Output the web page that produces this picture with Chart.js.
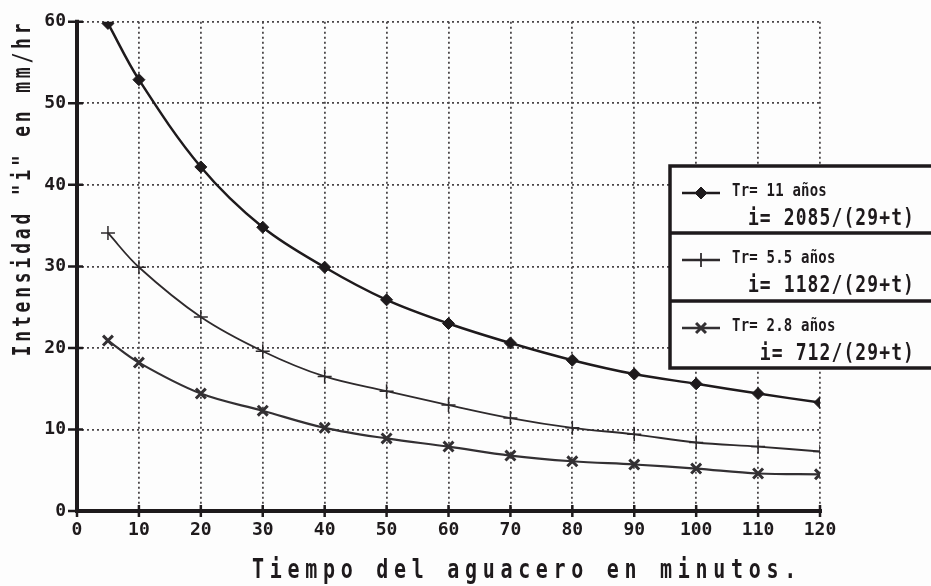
<!DOCTYPE html>
<html>
<head>
<meta charset="utf-8">
<script src="https://cdn.jsdelivr.net/npm/chart.js@4.4.1/dist/chart.umd.min.js"></script>
<style>
  body { margin: 0; background: #fdfdfd; }
  #wrap { width: 931px; height: 586px; }
</style>
</head>
<body>
<div id="wrap"><canvas id="curvas" width="931" height="586"></canvas></div>
<script>
// datos
const tiempos = [5, 10, 20, 30, 40, 50, 60, 70, 80, 90, 100, 110, 120]
const tr11 = [59.8, 52.9, 42.2, 34.8, 29.9, 25.9, 23.0, 20.6, 18.5, 16.8, 15.6, 14.4, 13.3]
const tr55 = [34.1, 29.9, 23.8, 19.6, 16.5, 14.7, 13.0, 11.4, 10.2, 9.4, 8.4, 7.9, 7.3]
const tr28 = [20.9, 18.2, 14.4, 12.3, 10.2, 8.9, 7.9, 6.8, 6.1, 5.7, 5.2, 4.6, 4.5]

const nombres = ['Tr= 11 años', 'Tr= 5.5 años', 'Tr= 2.8 años']
const formulas = ['i= 2085/(29+t)', 'i= 1182/(29+t)', 'i= 712/(29+t)']
const tituloX = 'Tiempo del aguacero en minutos.'
const tituloY = 'Intensidad "i" en mm/hr'

const MONO = 'DejaVu Sans Mono'

function puntos(ys) {
    return tiempos.map((t, i) => ({ x: t, y: ys[i] }))
}

// texto estirado a lo alto, como la letra de plotter
function texto(ctx, txt, x, y, size, sy, spacing, align, rot) {
    ctx.save()
    ctx.translate(x, y)
    if (rot) ctx.rotate(rot)
    ctx.scale(1, sy)
    ctx.font = 'bold ' + size + 'px "' + MONO + '"'
    ctx.letterSpacing = spacing + 'px'
    ctx.textAlign = align
    ctx.textBaseline = 'alphabetic'
    ctx.fillStyle = '#1e1a1c'
    ctx.fillText(txt, 0, 0)
    ctx.restore()
}

const ejes = {
    id: 'ejes',
    beforeDatasetsDraw(chart) {
        const ctx = chart.ctx
        const xs = chart.scales.x, ys = chart.scales.y
        const x0 = xs.getPixelForValue(0), x1 = xs.getPixelForValue(120)
        const y0 = ys.getPixelForValue(0), y1 = ys.getPixelForValue(60)
        ctx.save()
        ctx.strokeStyle = '#1e1a1c'
        ctx.lineWidth = 4
        ctx.beginPath()
        ctx.moveTo(x0, y1 - 2); ctx.lineTo(x0, y0 + 2)
        ctx.moveTo(x0 - 2, y0); ctx.lineTo(x1 + 2, y0)
        ctx.stroke()
        ctx.lineWidth = 2.5
        ctx.beginPath()
        for (let v = 0; v <= 60; v += 10) {
            const p = ys.getPixelForValue(v)
            ctx.moveTo(x0 - 9, p); ctx.lineTo(x0 + 6, p)
        }
        for (let v = 0; v <= 120; v += 10) {
            const p = xs.getPixelForValue(v)
            ctx.moveTo(p, y0 - 6); ctx.lineTo(p, y0 + 6)
        }
        ctx.stroke()
        ctx.restore()
    },
    afterDraw(chart) {
        const ctx = chart.ctx
        texto(ctx, tituloX, 527, 578, 20, 1.35, 5.7, 'center')
        texto(ctx, tituloY, 30, 188, 18, 1.4, 3.8, 'center', -Math.PI / 2)

        // leyenda en caja
        const L = 670, T = 166, R = 945
        const filas = [166, 233, 301, 368]
        ctx.save()
        ctx.fillStyle = '#fdfdfd'
        ctx.fillRect(L, T, R - L, filas[3] - T)
        ctx.strokeStyle = '#1e1a1c'
        ctx.lineWidth = 3.5
        ctx.strokeRect(L, T, R - L, filas[3] - T)
        ctx.beginPath()
        ctx.moveTo(L, filas[1]); ctx.lineTo(R, filas[1])
        ctx.moveTo(L, filas[2]); ctx.lineTo(R, filas[2])
        ctx.stroke()
        ctx.restore()

        chart.data.datasets.forEach((ds, i) => {
            const top = filas[i]
            const ym = top + 27
            ctx.save()
            ctx.strokeStyle = ds.borderColor
            ctx.lineWidth = 2.5
            ctx.beginPath()
            ctx.moveTo(682, ym); ctx.lineTo(720, ym)
            ctx.stroke()
            ctx.restore()
            Chart.helpers.drawPoint(ctx, {
                pointStyle: ds.pointStyle,
                radius: ds.pointRadius,
                borderWidth: ds.pointBorderWidth
            }, 701, ym)
            ctx.fillStyle = ds.borderColor
            ctx.strokeStyle = ds.borderColor
            ctx.save()
            ctx.fillStyle = ds.pointBackgroundColor
            ctx.strokeStyle = ds.pointBorderColor
            ctx.lineWidth = ds.pointBorderWidth
            Chart.helpers.drawPoint(ctx, {
                pointStyle: ds.pointStyle,
                radius: ds.pointRadius,
                borderWidth: ds.pointBorderWidth
            }, 701, ym)
            ctx.restore()
            texto(ctx, nombres[i], 732, top + 30, 14, 1.3, 0.2, 'left')
            texto(ctx, formulas[i], 915, top + 59, 18, 1.3, 1.1, 'right')
        })
    }
}

const grafico = new Chart(document.getElementById('curvas'), {
    type: 'line',
    data: {
        datasets: [{
            label: nombres[0],
            data: puntos(tr11),
            borderColor: '#1e1a1c',
            borderWidth: 2.5,
            pointStyle: 'rectRot',
            pointRadius: 6,
            pointBackgroundColor: '#1e1a1c',
            pointBorderColor: '#1e1a1c',
            pointBorderWidth: 1,
            tension: 0.35
        }, {
            label: nombres[1],
            data: puntos(tr55),
            borderColor: '#2e2a2c',
            borderWidth: 1.8,
            pointStyle: 'cross',
            pointRadius: 7,
            pointBackgroundColor: '#2e2a2c',
            pointBorderColor: '#2e2a2c',
            pointBorderWidth: 1.5,
            tension: 0.35
        }, {
            label: nombres[2],
            data: puntos(tr28),
            borderColor: '#333033',
            borderWidth: 2.2,
            pointStyle: 'crossRot',
            pointRadius: 7,
            pointBackgroundColor: '#333033',
            pointBorderColor: '#333033',
            pointBorderWidth: 3,
            tension: 0.35
        }]
    },
    options: {
        responsive: false,
        animation: false,
        layout: { padding: { top: 18, right: 111, left: 0, bottom: 0 } },
        plugins: {
            legend: { display: false },
            tooltip: { enabled: false }
        },
        scales: {
            x: {
                type: 'linear',
                min: 0,
                max: 120,
                ticks: {
                    stepSize: 10,
                    padding: 9,
                    color: '#1e1a1c',
                    font: { family: MONO, size: 18, weight: 'bold' }
                },
                grid: { color: '#4a4648', lineWidth: 1.8, drawTicks: false },
                border: { display: false, dash: [2, 3] },
                afterFit: function (scale) { scale.height = 75 }
            },
            y: {
                min: 0,
                max: 60,
                ticks: {
                    stepSize: 10,
                    padding: 11,
                    color: '#1e1a1c',
                    font: { family: MONO, size: 18, weight: 'bold' }
                },
                grid: { color: '#4a4648', lineWidth: 1.8, drawTicks: false },
                border: { display: false, dash: [2, 3] },
                afterFit: function (scale) { scale.width = 77 }
            }
        }
    },
    plugins: [ejes]
})
</script>
</body>
</html>
